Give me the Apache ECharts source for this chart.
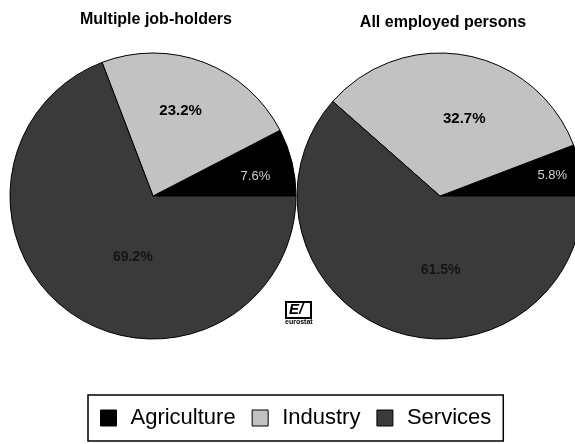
<!DOCTYPE html>
<html>
<head>
<meta charset="utf-8">
<script src="https://cdn.jsdelivr.net/npm/echarts@6/dist/echarts.min.js"></script>
<style>
html,body{margin:0;padding:0;background:#fff;}
#chart{width:575px;height:444px;}
</style>
</head>
<body>
<div id="chart"></div>
<script>
// ---- data ----
var categories = ['Agriculture', 'Industry', 'Services'];
var multipleJobHolders = [7.6, 23.2, 69.2];
var allEmployed = [5.8, 32.7, 61.5];
var pieTitles = ['Multiple job-holders', 'All employed persons'];

// ---- styles / layout (not data) ----
var colors = ['#000000', '#c2c2c2', '#3a3a3a'];
var labelStyles = [
  {color: '#d0d0d0', fontWeight: 'normal', fontSize: 13},
  {color: '#000000', fontWeight: 'bold', fontSize: 15},
  {color: '#151515', fontWeight: 'bold', fontSize: 14}
];
var leftOffsets = [[30, -2], [1, -16], [22, 0]];
var rightOffsets = [[39, -7], [11, -4], [27, 4]];

function buildData(values) {
  return values.map(function (v, i) {
    return {
      name: categories[i],
      value: v,
      itemStyle: {color: colors[i]},
      label: labelStyles[i]
    };
  });
}

function pieSeries(values, center, offsets) {
  return {
    type: 'pie',
    center: center,
    radius: 143,
    startAngle: 0,
    clockwise: false,
    animation: false,
    silent: true,
    itemStyle: {borderColor: '#000', borderWidth: 1},
    label: {
      show: true,
      position: 'inside',
      fontFamily: 'Liberation Sans, Arial, sans-serif',
      formatter: function (p) { return p.value.toFixed(1) + '%'; }
    },
    labelLine: {show: false},
    labelLayout: function (params) {
      var o = offsets[params.dataIndex];
      return {dx: o[0], dy: o[1]};
    },
    data: buildData(values)
  };
}

var chart = echarts.init(document.getElementById('chart'), null, {renderer: 'canvas'});
chart.setOption({
  backgroundColor: '#ffffff',
  animation: false,
  title: [
    {text: pieTitles[0], left: 156, top: 12, textAlign: 'center', padding: 0,
     textStyle: {fontFamily: 'Liberation Sans, Arial, sans-serif', fontSize: 16, fontWeight: 'bold', color: '#000'}},
    {text: pieTitles[1], left: 443, top: 15, textAlign: 'center', padding: 0,
     textStyle: {fontFamily: 'Liberation Sans, Arial, sans-serif', fontSize: 16, fontWeight: 'bold', color: '#000'}}
  ],
  legend: {
    data: categories,
    left: 88,
    top: 395,
    orient: 'horizontal',
    padding: [12, 12],
    borderColor: '#000',
    borderWidth: 1.5,
    itemWidth: 16,
    itemHeight: 16,
    itemGap: 16,
    icon: 'rect',
    itemStyle: {borderColor: '#000', borderWidth: 1},
    selectedMode: false,
    textStyle: {fontFamily: 'Liberation Sans, Arial, sans-serif', fontSize: 22, color: '#000', padding: [0, 0, 0, 9]}
  },
  series: [
    pieSeries(multipleJobHolders, [153, 196], leftOffsets),
    pieSeries(allEmployed, [440, 196], rightOffsets)
  ],
  graphic: [
    {type: 'rect', shape: {x: 286, y: 302, width: 25, height: 16},
     style: {fill: '#fff', stroke: '#000', lineWidth: 2}},
    {type: 'text', x: 289, y: 302,
     style: {text: 'E/', fontFamily: 'Liberation Sans, Arial, sans-serif', fontSize: 15, fontWeight: 'bold', fill: '#000', fontStyle: 'italic'}},
    {type: 'text', x: 285, y: 319,
     style: {text: 'eurostat', fontFamily: 'Liberation Sans, Arial, sans-serif', fontSize: 7, fontWeight: 'bold', fill: '#000'}}
  ]
});
</script>
</body>
</html>
